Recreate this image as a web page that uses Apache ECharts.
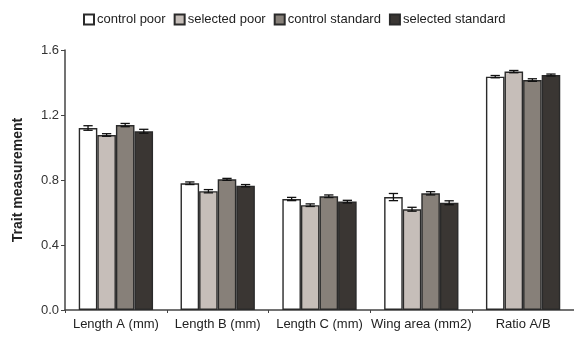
<!DOCTYPE html>
<html><head><meta charset="utf-8">
<script src="https://cdn.jsdelivr.net/npm/echarts@6/dist/echarts.min.js"></script>
<style>html,body{margin:0;padding:0;background:#fff;overflow:hidden}#c{width:574px;height:340px}</style>
</head><body><div id="c"></div>
<script>
var categories = ['Length A (mm)', 'Length B (mm)', 'Length C (mm)', 'Wing area (mm2)', 'Ratio A/B'];
var seriesNames = ['control poor', 'selected poor', 'control standard', 'selected standard'];
var controlPoor = [1.12, 0.78, 0.683, 0.695, 1.436];
var selectedPoor = [1.077, 0.731, 0.645, 0.62, 1.467];
var controlStandard = [1.138, 0.804, 0.70, 0.718, 1.415];
var selectedStandard = [1.10, 0.765, 0.667, 0.66, 1.446];
var controlPoorErr = [0.014, 0.008, 0.01, 0.022, 0.007];
var selectedPoorErr = [0.008, 0.01, 0.008, 0.012, 0.007];
var controlStandardErr = [0.01, 0.006, 0.008, 0.01, 0.008];
var selectedStandardErr = [0.012, 0.007, 0.008, 0.012, 0.006];
var yTicks = [0.0, 0.4, 0.8, 1.2, 1.6];

var values = [controlPoor, selectedPoor, controlStandard, selectedStandard];
var errs = [controlPoorErr, selectedPoorErr, controlStandardErr, selectedStandardErr];
var colors = ['#ffffff', '#c6beb9', '#878079', '#3a3633'];
var groupFrac = 0.73;

var chart = echarts.init(document.getElementById('c'));
var series = [];
values.forEach(function (vals, i) {
  series.push({
    name: seriesNames[i], type: 'bar', data: vals,
    barGap: '0%', barCategoryGap: '27%',
    itemStyle: { color: colors[i], borderColor: '#2a2a2a', borderWidth: 1.4 },
    z: 2
  });
});
values.forEach(function (vals, i) {
  series.push({
    type: 'custom', z: 5, silent: true,
    data: vals.map(function (v, k) { return [k, v, errs[i][k]]; }),
    renderItem: function (params, api) {
      var k = api.value(0), v = api.value(1), e = api.value(2);
      var band = api.size([1, 0])[0];
      var bw = band * groupFrac / 4;
      var c = api.coord([k, v]);
      var x = c[0] + (i - 1.5) * bw;
      var yHi = api.coord([k, v + e])[1];
      var yLo = api.coord([k, v - e])[1];
      var hw = bw * 0.25;
      var st = { stroke: '#111', lineWidth: 1.3 };
      return { type: 'group', children: [
        { type: 'line', shape: { x1: x, y1: yHi, x2: x, y2: yLo }, style: st },
        { type: 'line', shape: { x1: x - hw, y1: yHi, x2: x + hw, y2: yHi }, style: st },
        { type: 'line', shape: { x1: x - hw, y1: yLo, x2: x + hw, y2: yLo }, style: st }
      ]};
    }
  });
});

chart.setOption({
  animation: false,
  textStyle: { fontFamily: 'Liberation Sans, Arial, sans-serif' },
  legend: {
    data: seriesNames, top: 8, left: 78,
    itemWidth: 10, itemHeight: 10, itemGap: 8,
    icon: 'rect',
    textStyle: { fontSize: 13, color: '#222', padding: [0, 0, 0, -2] }
  },
  grid: { left: 65, width: 512, top: 50, bottom: 30 },
  xAxis: {
    type: 'category', data: categories,
    axisLine: { lineStyle: { color: '#444', width: 1.5 } },
    axisTick: { show: true, alignWithLabel: false, length: 3, lineStyle: { color: '#444' } },
    axisLabel: { fontSize: 13, color: '#222', margin: 8, interval: 0 }
  },
  yAxis: {
    type: 'value', min: 0, max: 1.6, interval: 0.4,
    name: 'Trait measurement', nameLocation: 'middle', nameGap: 40,
    nameTextStyle: { fontSize: 14, fontWeight: 'bold', color: '#222' },
    axisLine: { show: true, lineStyle: { color: '#444', width: 1.5 } },
    axisTick: { show: true, length: 4, lineStyle: { color: '#444' } },
    axisLabel: { fontSize: 13, color: '#333', margin: 6,
      formatter: function (v) { return yTicks.indexOf(+v.toFixed(1)) >= 0 ? v.toFixed(1) : ''; } },
    splitLine: { show: false }
  },
  series: series
});
</script></body></html>
